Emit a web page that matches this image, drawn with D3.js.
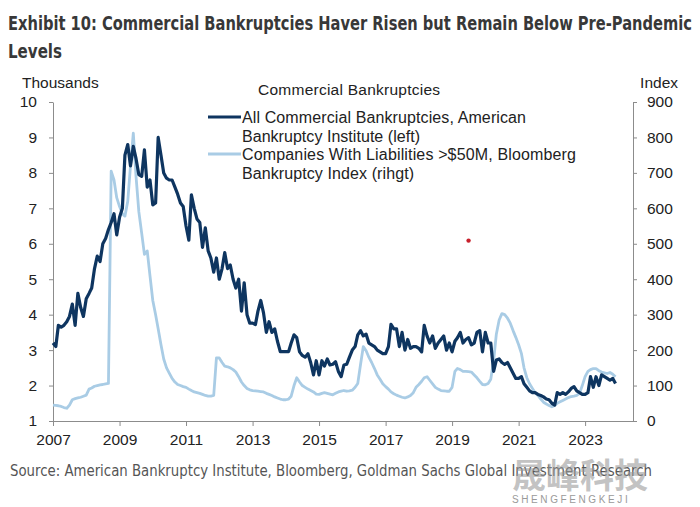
<!DOCTYPE html>
<html>
<head>
<meta charset="utf-8">
<script src="https://cdn.jsdelivr.net/npm/d3@7"></script>
<style>
  html, body { margin: 0; padding: 0; background: #fff; }
  svg { display: block; }
</style>
</head>
<body>
<div id="chart"></div>
<script>
// Monthly values, Jan 2007 .. Dec 2023 (one row per year)
const START_YEAR = 2007;

// All Commercial Bankruptcies, ABI (thousands, left axis)
const abiThousands = [
  3.2, 3.1, 3.7, 3.65, 3.7, 3.8, 3.95, 4.3, 3.7, 4.6, 4.2, 3.95,
  4.45, 4.6, 4.75, 5.3, 5.65, 5.5, 6.0, 6.15, 6.4, 6.6, 6.85, 6.25,
  6.75, 7.0, 8.5, 8.8, 8.2, 8.75, 8.4, 7.95, 7.9, 8.65, 7.6, 7.8,
  7.1, 7.15, 9.0, 8.5, 8.0, 7.85, 7.8, 7.8, 7.6, 7.4, 7.15, 7.05,
  6.5, 6.1, 7.38, 7.0, 6.7, 6.6, 5.9, 6.45, 5.8, 5.6, 5.2, 5.6,
  5.0, 5.3, 5.75, 5.3, 5.4, 5.0, 4.75, 5.0, 4.1, 4.9, 4.0, 3.76,
  3.76, 3.72, 4.1, 4.4, 4.05, 3.5, 3.8, 3.5, 3.6, 3.25, 2.96, 2.96,
  2.96, 2.96, 3.2, 3.43, 3.35, 2.95, 2.85, 2.8, 2.9, 2.65, 2.3, 2.7,
  2.3, 2.7, 2.55, 2.75, 2.58, 2.6, 2.67, 2.4, 2.25, 2.58, 2.6, 2.8,
  3.0, 3.1, 3.43, 3.55, 3.4, 3.45, 3.2, 3.15, 3.1, 3.0, 2.95, 2.9,
  2.9, 3.1, 3.73, 3.6, 3.6, 3.1, 3.5, 3.0, 3.3, 3.05, 3.1, 3.1,
  3.05, 2.95, 3.7, 3.4, 3.2, 3.4, 3.05, 3.2, 3.3, 3.4, 3.0, 3.2,
  2.95, 3.25, 3.35, 3.5, 3.2, 3.3, 3.35, 3.15, 3.2, 3.5, 3.55, 2.95,
  3.5, 3.2, 3.2, 2.4, 2.72, 2.75, 2.65, 2.6, 2.65, 2.5, 2.35, 2.2,
  2.2, 2.25, 2.05, 1.95, 1.85, 1.8, 1.8, 1.75, 1.72, 1.68, 1.62, 1.6,
  1.5, 1.45, 1.8, 1.75, 1.8, 1.75, 1.82, 1.92, 1.97, 1.85, 1.8, 1.75,
  1.75, 1.8, 2.25, 1.95, 2.25, 2.0, 2.3, 2.25, 2.2, 2.15, 2.2, 2.06
];

// Companies with liabilities > $50M, Bloomberg index (right axis)
const bbgIndex = [
  45, 44, 43, 41, 38, 36, 45, 60, 63, 65, 67, 70,
  73, 90, 93, 98, 100, 102, 103, 105, 106, 705, 680, 630,
  605, 585, 578, 620, 720, 812, 690, 590, 530, 470, 480, 410,
  340, 300, 260, 215, 175, 150, 135, 120, 110, 103, 100, 97,
  95, 90, 86, 82, 80, 78, 75, 72, 70, 70, 72, 178,
  178, 165, 155, 153, 150, 145, 138, 125, 110, 100, 92, 88,
  86, 85, 84, 83, 82, 78, 75, 72, 68, 65, 62, 60,
  60, 62, 70, 100, 122, 110, 100, 95, 90, 86, 82, 76,
  75, 78, 80, 78, 76, 74, 78, 82, 84, 86, 84, 85,
  87, 95, 106, 160, 210, 198, 180, 165, 148, 130, 118, 105,
  97, 90, 82, 77, 73, 70, 67, 65, 68, 72, 80, 95,
  103, 112, 122, 125, 115, 105, 95, 90, 86, 85, 84, 84,
  95, 140, 148, 145, 140, 140, 139, 138, 130, 122, 112, 103,
  102, 106, 118, 170, 245, 285, 303, 300, 290, 276, 255, 236,
  215, 190, 150, 122, 105, 92, 80, 72, 62, 53, 48, 44,
  40, 44, 50, 54, 58, 62, 66, 69, 70, 72, 78, 100,
  125, 140, 145, 148, 148, 142, 138, 136, 134, 137, 132, 125
];

const xTickYears = [2007, 2009, 2011, 2013, 2015, 2017, 2019, 2021, 2023];
const leftTicks = [1, 2, 3, 4, 5, 6, 7, 8, 9, 10];
const rightTicks = [0, 100, 200, 300, 400, 500, 600, 700, 800, 900];
const legendLines = [
  ["All Commercial Bankruptcies, American", "Bankruptcy Institute (left)"],
  ["Companies With Liabilities >$50M, Bloomberg", "Bankruptcy Index (rihgt)"]
];
// stray red mark in the source image (July 2019, right-axis units)
const strayDot = [{ month: "2019-07", value: 509 }];

const W = 700, H = 507;
const plot = { left: 53, right: 633, top: 102, bottom: 421 };
const DARK = "#0e3560";
const LIGHT = "#a9cce5";
const AXIS = "#8c8c8c";
const SANS = "'Liberation Sans', Arial, sans-serif";
const NARROW = "'Liberation Sans Narrow', 'DejaVu Sans', sans-serif";

const svg = d3.select("#chart").append("svg")
  .attr("width", W)
  .attr("height", H);

const x = d3.scaleTime()
  .domain([new Date(2007, 0, 1), new Date(2024, 5, 10)])
  .range([plot.left, plot.right]);
const yLeft = d3.scaleLinear().domain([1, 10]).range([plot.bottom, plot.top]);
const yRight = d3.scaleLinear().domain([0, 900]).range([plot.bottom, plot.top]);

function toSeries(values) {
  return values.map(function(v, i) {
    return { date: new Date(START_YEAR, i, 1), value: v };
  });
}

// Title (condensed look via textLength)
svg.append("text")
  .attr("x", 8).attr("y", 30)
  .attr("font-family", NARROW)
  .attr("font-weight", "bold")
  .attr("font-size", 20)
  .attr("fill", "#383838")
  .attr("textLength", 684)
  .attr("lengthAdjust", "spacingAndGlyphs")
  .text("Exhibit 10: Commercial Bankruptcies Haver Risen but Remain Below Pre-Pandemic");
svg.append("text")
  .attr("x", 8).attr("y", 58)
  .attr("font-family", NARROW)
  .attr("font-weight", "bold")
  .attr("font-size", 20)
  .attr("fill", "#383838")
  .attr("textLength", 54)
  .attr("lengthAdjust", "spacingAndGlyphs")
  .text("Levels");

// Axis captions
svg.append("text").attr("x", 22).attr("y", 88)
  .attr("font-family", SANS).attr("font-size", 15.5).attr("fill", "#222")
  .text("Thousands");
svg.append("text").attr("x", 678).attr("y", 88).attr("text-anchor", "end")
  .attr("font-family", SANS).attr("font-size", 15.5).attr("fill", "#222")
  .text("Index");
svg.append("text").attr("x", 349).attr("y", 95).attr("text-anchor", "middle")
  .attr("font-family", SANS).attr("font-size", 15.5).attr("fill", "#222")
  .attr("textLength", 182)
  .text("Commercial  Bankruptcies");

// Axes
function styleAxis(g) {
  g.selectAll("path, line").attr("stroke", AXIS).attr("stroke-width", 1);
  g.selectAll("text")
    .attr("font-family", SANS)
    .attr("font-size", 15.5)
    .attr("fill", "#222");
}

svg.append("g")
  .attr("transform", "translate(0," + plot.bottom + ")")
  .call(d3.axisBottom(x)
    .tickValues(xTickYears.map(function(y) { return new Date(y, 0, 1); }))
    .tickFormat(d3.timeFormat("%Y"))
    .tickSize(5)
    .tickSizeOuter(0)
    .tickPadding(8))
  .call(styleAxis);

svg.append("g")
  .attr("transform", "translate(" + plot.left + ",0)")
  .call(d3.axisLeft(yLeft).tickValues(leftTicks).tickSize(4).tickSizeOuter(0).tickPadding(12))
  .call(styleAxis);

svg.append("g")
  .attr("transform", "translate(" + plot.right + ",0)")
  .call(d3.axisRight(yRight).tickValues(rightTicks).tickSize(4).tickSizeOuter(0).tickPadding(10))
  .call(styleAxis);

// Lines
const lineRight = d3.line()
  .x(function(d) { return x(d.date); })
  .y(function(d) { return yRight(d.value); });
const lineLeft = d3.line()
  .x(function(d) { return x(d.date); })
  .y(function(d) { return yLeft(d.value); });

svg.append("path")
  .datum(toSeries(bbgIndex))
  .attr("fill", "none")
  .attr("stroke", LIGHT)
  .attr("stroke-width", 2.8)
  .attr("stroke-linejoin", "round")
  .attr("d", lineRight);

svg.append("path")
  .datum(toSeries(abiThousands))
  .attr("fill", "none")
  .attr("stroke", DARK)
  .attr("stroke-width", 3.2)
  .attr("stroke-linejoin", "round")
  .attr("d", lineLeft);

// Legend
const legendColors = [DARK, LIGHT];
const legendWidths = [[284, 178], [334, 172]];
const legend = svg.append("g").attr("font-family", SANS).attr("font-size", 16).attr("fill", "#222");
legendLines.forEach(function(lines, i) {
  const top = 117 + i * 37;
  legend.append("line")
    .attr("x1", 208).attr("x2", 241)
    .attr("y1", top).attr("y2", top)
    .attr("stroke", legendColors[i])
    .attr("stroke-width", i === 0 ? 3.2 : 2.8);
  lines.forEach(function(t, j) {
    legend.append("text")
      .attr("x", 242)
      .attr("y", top + 6 + j * 18.5)
      .attr("textLength", legendWidths[i][j])
      .text(t);
  });
});

// Stray red dot
svg.selectAll("circle.stray")
  .data(strayDot)
  .enter().append("circle")
  .attr("class", "stray")
  .attr("cx", function(d) { return x(d3.timeParse("%Y-%m")(d.month)); })
  .attr("cy", function(d) { return yRight(d.value); })
  .attr("r", 2.2)
  .attr("fill", "#c8202c");

// Source
svg.append("text")
  .attr("x", 10).attr("y", 476)
  .attr("font-family", NARROW)
  .attr("font-size", 16)
  .attr("fill", "#555")
  .attr("textLength", 642)
  .attr("lengthAdjust", "spacingAndGlyphs")
  .text("Source: American Bankruptcy Institute, Bloomberg, Goldman Sachs Global Investment Research");

// Watermark
svg.append("text")
  .attr("x", 512).attr("y", 488)
  .attr("font-family", "'Noto Sans CJK SC', sans-serif")
  .attr("font-size", 34)
  .attr("font-weight", "bold")
  .attr("fill", "#9a9a9a")
  .attr("fill-opacity", 0.6)
  .text("晟峰科技");
svg.append("text")
  .attr("x", 512).attr("y", 503)
  .attr("font-family", SANS)
  .attr("font-size", 10)
  .attr("letter-spacing", 2.6)
  .attr("fill", "#9a9a9a")
  .text("SHENGFENGKEJI");
</script>
</body>
</html>
